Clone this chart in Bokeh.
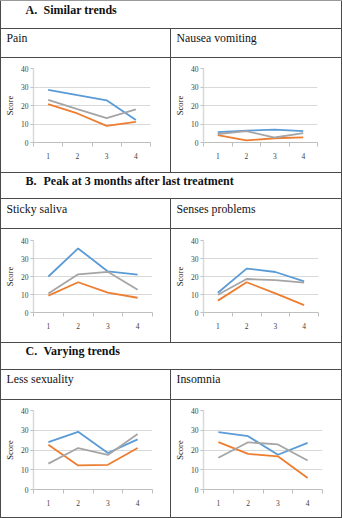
from bokeh.plotting import figure
from bokeh.layouts import column, row
from bokeh.models import Range1d, FixedTicker, Div
from bokeh.core.properties import value
from bokeh.embed import file_html
from bokeh.resources import INLINE

# ---------------- data ----------------
time_points = [1, 2, 3, 4]
x_labels = ["1", "2", "3", "4"]
y_ticks = [0, 10, 20, 30, 40]

section_letters = ["A.", "B.", "C."]
section_titles = ["Similar trends", "Peak at 3 months after last treatment", "Varying trends"]
panel_titles = ["Pain", "Nausea vomiting", "Sticky saliva", "Senses problems",
                "Less sexuality", "Insomnia"]

pain_blue = [28.5, 25.6, 22.8, 12.2]
pain_orange = [20.8, 15.7, 9.0, 11.2]
pain_gray = [23.0, 18.0, 13.2, 17.9]

nausea_blue = [5.6, 6.4, 7.0, 6.2]
nausea_orange = [4.0, 1.1, 2.3, 2.8]
nausea_gray = [4.6, 6.1, 2.7, 5.1]

saliva_blue = [20.0, 35.6, 22.8, 21.0]
saliva_orange = [9.4, 16.8, 11.0, 8.2]
saliva_gray = [10.6, 21.2, 22.6, 12.6]

senses_blue = [11.0, 24.4, 22.5, 17.3]
senses_orange = [6.6, 16.8, 10.6, 4.1]
senses_gray = [9.9, 18.6, 18.0, 16.6]

sexuality_blue = [24.0, 29.2, 18.5, 25.4]
sexuality_orange = [22.6, 12.2, 12.5, 21.0]
sexuality_gray = [13.1, 21.0, 17.5, 28.1]

insomnia_blue = [29.0, 27.0, 17.6, 23.6]
insomnia_orange = [24.0, 18.0, 16.8, 5.8]
insomnia_gray = [16.1, 23.9, 22.8, 14.7]

series_colors = ["#5B9BD5", "#ED7D31", "#A5A5A5"]

FONT_NAME = "Liberation Serif, Times New Roman, serif"
FONT = value(FONT_NAME)
LINE = "#4a4a4a"


def hsep(w=342, color=LINE):
    return Div(width=w, height=1, margin=0, styles={"background-color": color})


def vsep(h, color=LINE):
    return Div(width=1, height=h, margin=0, styles={"background-color": color})


def text_fig(w, h):
    p = figure(width=w, height=h, x_range=Range1d(0, w), y_range=Range1d(h, 0),
               min_border=0, toolbar_location=None, output_backend="svg",
               x_axis_location=None, y_axis_location=None)
    p.grid.visible = False
    p.outline_line_color = None
    p.background_fill_color = "white"
    p.border_fill_color = "white"
    return p


def header(letter, title, h, ty):
    p = text_fig(340, h)
    p.text(x=[24, 42], y=[ty, ty], text=[letter, title], text_font=FONT,
           text_font_size="12px", text_font_style="bold", text_color="#111111",
           text_baseline="middle")
    return p


def subtitle(title, w, h, ty):
    p = text_fig(w, h)
    p.text(x=[5], y=[ty], text=[title], text_font=FONT, text_font_size="11.8px",
           text_color="#111111", text_baseline="middle")
    return p


def chart(w, h, lb, rb, tb, bb, blue, orange, gray):
    p = figure(width=w, height=h, x_range=Range1d(0.5, 4.5), y_range=Range1d(0, 40),
               min_border_left=lb, min_border_right=rb, min_border_top=tb,
               min_border_bottom=bb, toolbar_location=None, output_backend="svg")
    p.outline_line_color = None
    p.background_fill_color = "white"
    p.border_fill_color = "white"
    for ys, c in zip([blue, orange, gray], series_colors):
        p.line(time_points, ys, line_color=c, line_width=1.8)
    xa = p.xaxis[0]
    xa.ticker = FixedTicker(ticks=time_points, minor_ticks=[0.5, 1.5, 2.5, 3.5, 4.5])
    xa.major_label_overrides = {t: lab for t, lab in zip(time_points, x_labels)}
    xa.major_tick_out = 0
    xa.major_tick_in = 0
    xa.minor_tick_out = 4
    xa.minor_tick_in = 0
    xa.minor_tick_line_color = "#bfbfbf"
    xa.axis_line_color = "#bfbfbf"
    xa.major_label_standoff = 6
    xa.major_label_text_font = FONT_NAME
    xa.major_label_text_font_size = "7.5px"
    xa.major_label_text_color = "#404040"
    ya = p.yaxis[0]
    ya.ticker = FixedTicker(ticks=y_ticks)
    ya.major_tick_out = 3
    ya.major_tick_in = 0
    ya.major_tick_line_color = "#bfbfbf"
    ya.axis_line_color = "#d9d9d9"
    ya.axis_line_width = 1.5
    ya.major_label_standoff = 2
    ya.major_label_text_font = FONT_NAME
    ya.major_label_text_font_size = "7.5px"
    ya.major_label_text_color = "#404040"
    ya.axis_label = "Score"
    ya.axis_label_text_font = FONT_NAME
    ya.axis_label_text_font_size = "8.5px"
    ya.axis_label_text_font_style = "normal"
    ya.axis_label_text_color = "#111111"
    ya.axis_label_standoff = 3
    p.xgrid.visible = False
    p.ygrid.grid_line_color = "#d9d9d9"
    p.ygrid.grid_line_width = 1
    return p


# section A
hA = header(section_letters[0], section_titles[0], 27, 8)
sA1 = subtitle(panel_titles[0], 169, 28, 8)
sA2 = subtitle(panel_titles[1], 170, 28, 8)
cA1 = chart(169, 114, 32, 20, 10, 30, pain_blue, pain_orange, pain_gray)
cA2 = chart(170, 114, 32, 24, 10, 30, nausea_blue, nausea_orange, nausea_gray)

# section B
hB = header(section_letters[1], section_titles[1], 25, 7)
sB1 = subtitle(panel_titles[2], 169, 29, 9)
sB2 = subtitle(panel_titles[3], 170, 29, 9)
cB1 = chart(169, 113, 32, 18, 11, 30, saliva_blue, saliva_orange, saliva_gray)
cB2 = chart(170, 113, 31, 23, 11, 30, senses_blue, senses_orange, senses_gray)

# section C
hC = header(section_letters[2], section_titles[2], 26, 7)
sC1 = subtitle(panel_titles[4], 169, 29, 8)
sC2 = subtitle(panel_titles[5], 170, 29, 8)
cC1 = chart(169, 117, 32, 18, 10, 28, sexuality_blue, sexuality_orange, sexuality_gray)
cC2 = chart(170, 117, 31, 19, 10, 28, insomnia_blue, insomnia_orange, insomnia_gray)


def full_row(fig, h):
    return row(vsep(h), fig, vsep(h), spacing=0)


def pair_row(f1, f2, h):
    return row(vsep(h), f1, vsep(h), f2, vsep(h), spacing=0)


layout = column(
    hsep(color="#9a9a9a"),
    full_row(hA, 27), hsep(),
    pair_row(sA1, sA2, 28), hsep(),
    pair_row(cA1, cA2, 114), hsep(),
    full_row(hB, 25), hsep(),
    pair_row(sB1, sB2, 29), hsep(),
    pair_row(cB1, cB2, 113), hsep(),
    full_row(hC, 26), hsep(),
    pair_row(sC1, sC2, 29), hsep(),
    pair_row(cC1, cC2, 117), hsep(),
    spacing=0,
)

open("out.html", "w").write(file_html(layout, INLINE))
